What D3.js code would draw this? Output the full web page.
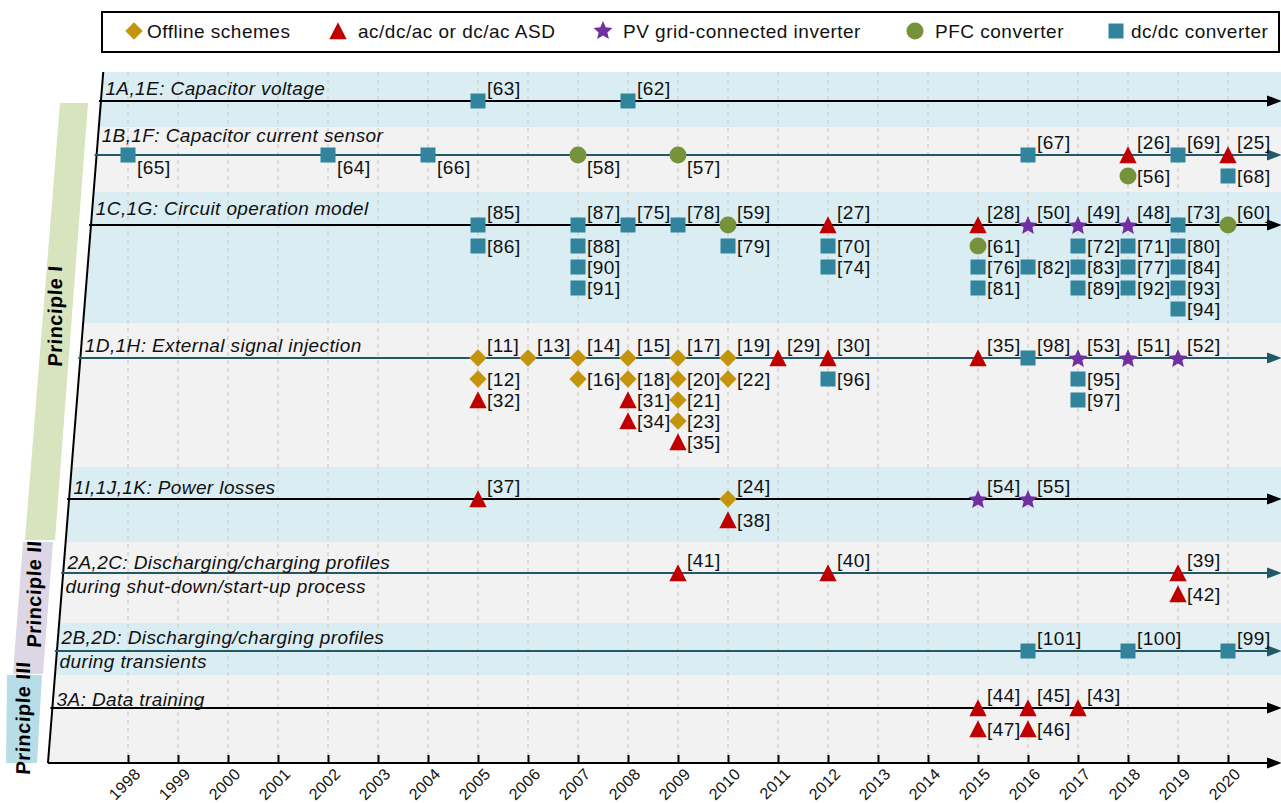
<!DOCTYPE html>
<html>
<head>
<meta charset="utf-8">
<script src="https://cdnjs.cloudflare.com/ajax/libs/d3/7.8.5/d3.min.js"></script>
<style>
  body { margin: 0; background: #fff; }
  text { font-family: "Liberation Sans", Arial, sans-serif; }
</style>
</head>
<body>
<svg id="chart" width="1281" height="803"></svg>
<script>
// ---- data ----
var years = d3.range(1998, 2021);
var typeKeys = ["off", "asd", "pv", "pfc", "dcdc"];
var typeNames = ["Offline schemes", "ac/dc/ac or dc/ac ASD", "PV grid-connected inverter", "PFC converter", "dc/dc converter"];
var principles = ["Principle I", "Principle II", "Principle III"];

var rowTitles = [
    ["1A,1E: Capacitor voltage"],
    ["1B,1F: Capacitor current sensor"],
    ["1C,1G: Circuit operation model"],
    ["1D,1H: External signal injection"],
    ["1I,1J,1K: Power losses"],
    ["2A,2C: Discharging/charging profiles", "during shut-down/start-up process"],
    ["2B,2D: Discharging/charging profiles", "during transients"],
    ["3A: Data training"]
];

// [year, type, reference, stack level (0 = on the line)]
var row1A = [[2005, "dcdc", 63, 0], [2008, "dcdc", 62, 0]];
var row1B = [[1998, "dcdc", 65, 0], [2002, "dcdc", 64, 0], [2004, "dcdc", 66, 0],
    [2007, "pfc", 58, 0], [2009, "pfc", 57, 0], [2016, "dcdc", 67, 0],
    [2018, "asd", 26, 0], [2018, "pfc", 56, 1], [2019, "dcdc", 69, 0],
    [2020, "asd", 25, 0], [2020, "dcdc", 68, 1]];
var row1C = [[2005, "dcdc", 85, 0], [2005, "dcdc", 86, 1],
    [2007, "dcdc", 87, 0], [2007, "dcdc", 88, 1], [2007, "dcdc", 90, 2], [2007, "dcdc", 91, 3],
    [2008, "dcdc", 75, 0], [2009, "dcdc", 78, 0], [2010, "pfc", 59, 0], [2010, "dcdc", 79, 1],
    [2012, "asd", 27, 0], [2012, "dcdc", 70, 1], [2012, "dcdc", 74, 2],
    [2015, "asd", 28, 0], [2015, "pfc", 61, 1], [2015, "dcdc", 76, 2], [2015, "dcdc", 81, 3],
    [2016, "pv", 50, 0], [2016, "dcdc", 82, 2],
    [2017, "pv", 49, 0], [2017, "dcdc", 72, 1], [2017, "dcdc", 83, 2], [2017, "dcdc", 89, 3],
    [2018, "pv", 48, 0], [2018, "dcdc", 71, 1], [2018, "dcdc", 77, 2], [2018, "dcdc", 92, 3],
    [2019, "dcdc", 73, 0], [2019, "dcdc", 80, 1], [2019, "dcdc", 84, 2], [2019, "dcdc", 93, 3], [2019, "dcdc", 94, 4],
    [2020, "pfc", 60, 0]];
var row1D = [[2005, "off", 11, 0], [2005, "off", 12, 1], [2005, "asd", 32, 2],
    [2006, "off", 13, 0], [2007, "off", 14, 0], [2007, "off", 16, 1],
    [2008, "off", 15, 0], [2008, "off", 18, 1], [2008, "asd", 31, 2], [2008, "asd", 34, 3],
    [2009, "off", 17, 0], [2009, "off", 20, 1], [2009, "off", 21, 2], [2009, "off", 23, 3], [2009, "asd", 35, 4],
    [2010, "off", 19, 0], [2010, "off", 22, 1], [2011, "asd", 29, 0],
    [2012, "asd", 30, 0], [2012, "dcdc", 96, 1], [2015, "asd", 35, 0], [2016, "dcdc", 98, 0],
    [2017, "pv", 53, 0], [2017, "dcdc", 95, 1], [2017, "dcdc", 97, 2],
    [2018, "pv", 51, 0], [2019, "pv", 52, 0]];
var row1I = [[2005, "asd", 37, 0], [2010, "off", 24, 0], [2010, "asd", 38, 1],
    [2015, "pv", 54, 0], [2016, "pv", 55, 0]];
var row2A = [[2009, "asd", 41, 0], [2012, "asd", 40, 0], [2019, "asd", 39, 0], [2019, "asd", 42, 1]];
var row2B = [[2016, "dcdc", 101, 0], [2018, "dcdc", 100, 0], [2020, "dcdc", 99, 0]];
var row3A = [[2015, "asd", 44, 0], [2015, "asd", 47, 1], [2016, "asd", 45, 0], [2016, "asd", 46, 1], [2017, "asd", 43, 0]];
var rows = [row1A, row1B, row1C, row1D, row1I, row2A, row2B, row3A];

// references whose label sits under the line
var belowRefs = [65, 64, 66, 58, 57];

// ---- layout ----
var bandEdges = [72, 127, 192, 323, 467, 542, 623, 675, 763];
var lineY = [101, 155, 225, 358, 499, 573, 651, 708];
var titleDy = [-6, -13, -10, -6, -5, -4, -7, -2];
var bandFill = ["#daedf3", "#f2f2f2", "#daedf3", "#f2f2f2", "#daedf3", "#f2f2f2", "#daedf3", "#f2f2f2"];
var lineCol = ["#000", "#215968", "#000", "#215968", "#000", "#215968", "#215968", "#000"];
var typeCol = { off: "#c4940c", asd: "#c00000", pv: "#7030a0", pfc: "#76933c", dcdc: "#31849b" };
var axisY = 763, right = 1281, step = 21;

function slant(y) { return 101 - (y - 100) * 0.08; }

var x = d3.scaleLinear().domain([1998, 2020]).range([128, 1228]);

var svg = d3.select("#chart");

// custom symbol shapes
var triShape = { draw: function(c, s) { var r = Math.sqrt(s) / 2; c.moveTo(0, -r); c.lineTo(r, r * 0.95); c.lineTo(-r, r * 0.95); c.closePath(); } };
var diaShape = { draw: function(c, s) { var r = Math.sqrt(s) / 2; c.moveTo(0, -r); c.lineTo(r, 0); c.lineTo(0, r); c.lineTo(-r, 0); c.closePath(); } };
var starShape = { draw: function(c, s) {
    var R = Math.sqrt(s) / 2, r = R * 0.46;
    for (var k = 0; k < 10; k++) {
        var a = -Math.PI / 2 + k * Math.PI / 5, rr = k % 2 ? r : R;
        if (k) c.lineTo(rr * Math.cos(a), rr * Math.sin(a)); else c.moveTo(rr * Math.cos(a), rr * Math.sin(a));
    }
    c.closePath();
} };
var symType = { off: diaShape, asd: triShape, pv: starShape, pfc: d3.symbolCircle, dcdc: d3.symbolSquare };
var symSize = { off: 300, asd: 300, pv: 400, pfc: 227, dcdc: 225 };
function sym(k) { return d3.symbol().type(symType[k]).size(symSize[k])(); }

// ---- bands ----
for (var i = 0; i < lineY.length; i++) {
    var y0 = bandEdges[i], y1 = bandEdges[i + 1];
    svg.append("path")
        .attr("d", "M" + slant(y0) + "," + y0 + "L" + right + "," + y0 + "L" + right + "," + y1 + "L" + slant(y1) + "," + y1 + "Z")
        .attr("fill", bandFill[i]);
}

// principle strips
var stripPts = [
    [[60, 103], [88, 103], [55, 540], [25, 540]],
    [[23, 542], [53, 542], [43, 674], [13, 674]],
    [[7, 675], [42, 675], [37, 763], [6, 763]]
];
var stripCol = ["#d7e4bd", "#dcd6e5", "#b7dee8"];
var stripTxt = [[55, 316], [34, 594], [23, 718]];
stripPts.forEach(function(p, i) {
    svg.append("path").attr("d", "M" + p.join("L") + "Z").attr("fill", stripCol[i]);
    svg.append("text")
        .attr("transform", "translate(" + stripTxt[i][0] + "," + stripTxt[i][1] + ") rotate(-90) skewX(-4)")
        .attr("text-anchor", "middle").attr("dy", "0.35em")
        .attr("font-size", 20).attr("font-weight", "bold").attr("letter-spacing", 0.5)
        .text(principles[i]);
});

// grid
svg.append("g").selectAll("line").data(years).enter().append("line")
    .attr("x1", function(d) { return x(d); }).attr("x2", function(d) { return x(d); })
    .attr("y1", bandEdges[0]).attr("y2", axisY)
    .attr("stroke", "#d4d4d4").attr("stroke-width", 1.5).attr("stroke-dasharray", "4,4");

// left slanted border
svg.append("line").attr("x1", slant(bandEdges[0])).attr("y1", bandEdges[0])
    .attr("x2", slant(axisY)).attr("y2", axisY)
    .attr("stroke", "#000").attr("stroke-width", 2);

function arrowLine(y, col, x0) {
    svg.append("line").attr("x1", x0).attr("x2", right - 8).attr("y1", y).attr("y2", y)
        .attr("stroke", col).attr("stroke-width", 2);
    svg.append("path").attr("d", "M" + (right - 14) + "," + (y - 5.5) + "L" + (right + 1) + "," + y + "L" + (right - 14) + "," + (y + 5.5) + "Z")
        .attr("fill", col);
}

// rows
rows.forEach(function(row, i) {
    var ly = lineY[i];
    arrowLine(ly, lineCol[i], slant(ly) - 2);
    var t = svg.append("text").attr("font-size", 19).attr("font-style", "italic")
        .attr("letter-spacing", 0.4).attr("fill", "#111");
    rowTitles[i].forEach(function(s, j) {
        var by = ly + titleDy[i] + j * 24;
        t.append("tspan").attr("x", slant(by) + 4).attr("y", by).text(s);
    });
    var pts = svg.append("g").selectAll("g").data(row).enter().append("g")
        .attr("transform", function(d) { return "translate(" + x(d[0]) + "," + (ly + d[3] * step) + ")"; });
    pts.append("path").attr("d", function(d) { return sym(d[1]); })
        .attr("fill", function(d) { return typeCol[d[1]]; })
        .attr("transform", function(d) { return d[1] === "pv" ? "translate(0,1)" : null; });
    pts.append("text").attr("font-size", 19).attr("letter-spacing", 0.5).attr("fill", "#111")
        .attr("x", 9)
        .attr("y", function(d) {
            if (belowRefs.indexOf(d[2]) >= 0) return 19;
            return d[3] === 0 ? -6 : 7;
        })
        .text(function(d) { return "[" + d[2] + "]"; });
});

// x axis
arrowLine(axisY, "#000", slant(axisY));
var ax = svg.append("g").attr("transform", "translate(0," + axisY + ")")
    .call(d3.axisBottom(x).tickValues(years).tickFormat(d3.format("d")).tickSize(-8));
ax.select(".domain").remove();
ax.selectAll(".tick line").attr("stroke", "#000").attr("stroke-width", 2);
ax.selectAll(".tick text")
    .attr("font-size", 16).attr("font-family", "Liberation Sans, Arial, sans-serif").attr("fill", "#111")
    .attr("letter-spacing", 0.3)
    .attr("text-anchor", "end").attr("x", 0).attr("y", 0).attr("dy", "0.35em")
    .attr("transform", "translate(9,8) rotate(-45)");

// legend
var leg = svg.append("g");
leg.append("rect").attr("x", 102).attr("y", 12).attr("width", 1177).attr("height", 40)
    .attr("fill", "#fff").attr("stroke", "#000").attr("stroke-width", 2);
var legSymX = [134, 338, 603, 915, 1116];
var legTxtX = [147, 358, 623, 935, 1131];
typeKeys.forEach(function(k, i) {
    leg.append("path").attr("d", sym(k)).attr("fill", typeCol[k])
        .attr("transform", "translate(" + legSymX[i] + "," + 31 + ")");
    leg.append("text").attr("x", legTxtX[i]).attr("y", 37.5).attr("font-size", 19)
        .attr("letter-spacing", 0.5).attr("fill", "#111")
        .text(typeNames[i]);
});
</script>
</body>
</html>
